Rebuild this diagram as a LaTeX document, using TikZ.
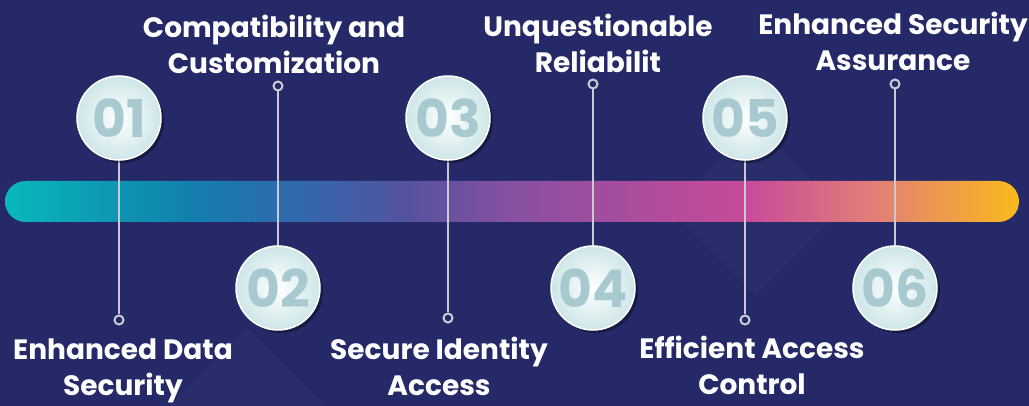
\documentclass[tikz,border=0pt]{standalone}
\usepackage{fontspec}
\setmainfont{Poppins}
\usetikzlibrary{shadows,positioning}

\definecolor{navy}{RGB}{37,41,104}
\definecolor{stemgrey}{RGB}{201,203,211}
\definecolor{numgrey}{RGB}{169,201,209}
\definecolor{ballrim}{RGB}{206,230,232}
\definecolor{bar0}{RGB}{8,184,186}
\definecolor{bar1}{RGB}{18,128,174}
\definecolor{bar2}{RGB}{52,102,172}
\definecolor{bar3}{RGB}{86,82,160}
\definecolor{bar4}{RGB}{136,80,160}
\definecolor{bar5}{RGB}{176,76,156}
\definecolor{bar6}{RGB}{200,74,154}
\definecolor{bar7}{RGB}{226,128,118}
\definecolor{bar8}{RGB}{249,186,28}

\pgfdeclarehorizontalshading{barshade}{100bp}{color(0bp)=(bar0); color(25bp)=(bar0);
  color(34bp)=(bar1); color(40bp)=(bar2); color(45bp)=(bar3); color(50bp)=(bar4);
  color(57bp)=(bar5); color(61.5bp)=(bar6); color(68bp)=(bar7); color(75bp)=(bar8);
  color(100bp)=(bar8)}

\tikzset{
  numball/.style={circle,minimum size=84pt,inner sep=0pt,draw=white,line width=1.5pt,
    inner color=white,outer color=ballrim,text=numgrey,
    font=\fontsize{52}{52}\selectfont\bfseries,
    drop shadow={shadow xshift=3pt,shadow yshift=-3pt,opacity=0.35,fill=black}},
  stemdot/.style={circle,minimum size=9pt,inner sep=0pt,draw=stemgrey,line width=2pt,fill=navy},
  stem/.style={draw=stemgrey,line width=2.5pt},
  caption/.style={text=white,align=center,inner sep=0pt,
    font=\fontsize{28}{36}\selectfont\bfseries}
}

\begin{document}
\begin{tikzpicture}[x=1pt,y=-1pt]
\useasboundingbox (0,0) rectangle (1029,406);
\fill[navy] (0,0) rectangle (1029,406);
% faint diamonds in the background
\fill[white,opacity=0.02] (755,125) -- (840,210) -- (755,295) -- (670,210) -- cycle;
\fill[white,opacity=0.02] (247,328) -- (360,441) -- (134,441) -- cycle;

% the bar
\shade[shading=barshade,rounded corners=20.5] (5,181) rectangle (1019,222);

% stem ends
\node[stemdot](d1) at (119,320) {};
\node[stemdot](d2) at (278,86) {};
\node[stemdot](d3) at (448,318) {};
\node[stemdot](d4) at (593,84) {};
\node[stemdot](d5) at (745,320) {};
\node[stemdot](d6) at (895,84) {};

% stems
\coordinate (s1) at (119,118);
\coordinate (s2) at (278,288);
\coordinate (s3) at (448,118);
\coordinate (s4) at (593,288);
\coordinate (s5) at (745,118);
\coordinate (s6) at (895,288);
\draw[stem] (s1) -- (d1.north);
\draw[stem] (s2) -- (d2.south);
\draw[stem] (s3) -- (d3.north);
\draw[stem] (s4) -- (d4.south);
\draw[stem] (s5) -- (d5.north);
\draw[stem] (s6) -- (d6.south);

% the balls
\node[numball](b1) at (s1) {01};
\node[numball](b2) at (s2) {02};
\node[numball](b3) at (s3) {03};
\node[numball](b4) at (s4) {04};
\node[numball](b5) at (s5) {05};
\node[numball](b6) at (s6) {06};

% captions
\node[caption](t1) at (123,371) {Enhanced Data\\Security};
\node[caption](t2) at (274,44) {Compatibility and\\Customization};
\node[caption](t3) at (439,366) {Secure Identity\\Access};
\node[caption](t4) at (598,43) {Unquestionable\\Reliabilit};
\node[caption](t5) at (752,365) {Efficient Access\\Control};
\node[caption](t6) at (893,41) {Enhanced Security\\Assurance};
\end{tikzpicture}
\end{document}
